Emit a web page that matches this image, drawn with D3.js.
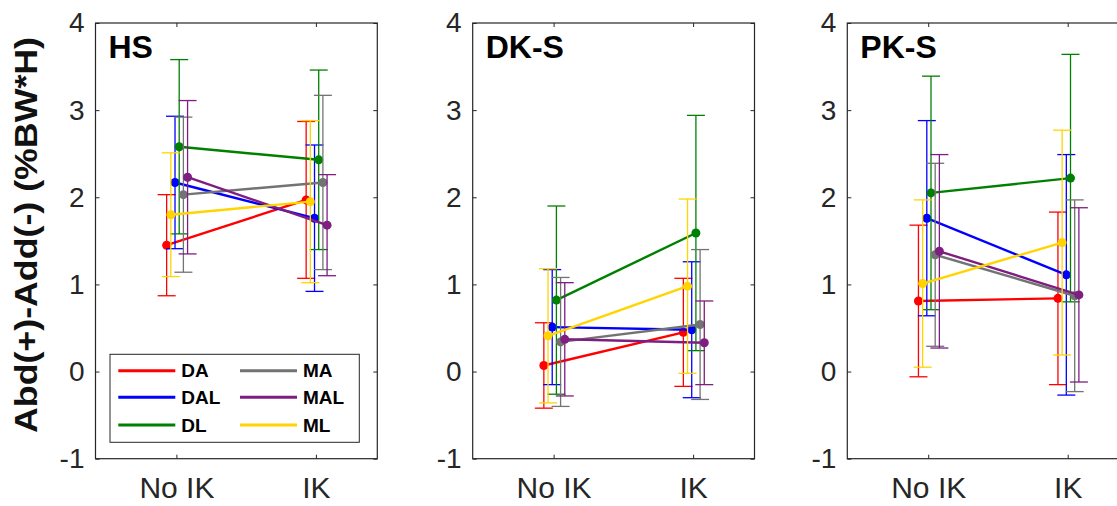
<!DOCTYPE html>
<html>
<head>
<meta charset="utf-8">
<script src="https://cdn.jsdelivr.net/npm/d3@7"></script>
<style>
  body { margin: 0; background: #fff; }
  text { font-family: "Liberation Sans", Arial, sans-serif; }
</style>
</head>
<body>
<script>
// Panels, groups and series
var panels = ["HS", "DK-S", "PK-S"];
var groups = ["No IK", "IK"];
var series = ["DA", "DAL", "DL", "MA", "MAL", "ML"];
var yTicks = [-1, 0, 1, 2, 3, 4];

// Means [No IK, IK] per series, one list per panel
var meansHS = [[1.45, 1.97], [2.17, 1.76], [2.58, 2.43], [2.03, 2.17], [2.23, 1.68], [1.80, 1.95]];
var meansDKS = [[0.07, 0.45], [0.51, 0.48], [0.82, 1.59], [0.34, 0.54], [0.37, 0.33], [0.41, 0.98]];
var meansPKS = [[0.81, 0.84], [1.76, 1.11], [2.05, 2.22], [1.34, 0.87], [1.38, 0.88], [1.01, 1.48]];

// Error bar half lengths [No IK, IK]
var errHS = [[0.58, 0.90], [0.76, 0.84], [1.00, 1.03], [0.89, 1.00], [0.88, 0.58], [0.71, 0.93]];
var errDKS = [[0.49, 0.62], [0.66, 0.78], [1.08, 1.35], [0.74, 0.86], [0.65, 0.48], [0.77, 1.00]];
var errPKS = [[0.87, 0.99], [1.12, 1.38], [1.34, 1.42], [1.05, 1.10], [1.11, 1.00], [0.96, 1.29]];

var allMeans = [meansHS, meansDKS, meansPKS];
var allErr = [errHS, errDKS, errPKS];

// Styling
var colors = {"DA": "#ff0000", "DAL": "#0000ff", "DL": "#008000",
              "MA": "#737373", "MAL": "#7e1e80", "ML": "#ffd400"};
var dodge = {"DA": -0.07, "ML": -0.04, "DAL": -0.01, "DL": 0.02, "MA": 0.05, "MAL": 0.08};
var axisColor = "#262626";

var width = 1117;
var height = 506;
var svg = d3.select("body").append("svg")
            .attr("width", width)
            .attr("height", height);

var panelLeft = [95.5, 472.7, 847.3];
var panelWidth = 281.8;
var plotTop = 23;
var plotBottom = 458.7;

var yScale = d3.scaleLinear()
               .domain([-1, 4])
               .range([plotBottom, plotTop]);

panels.forEach(function(name, p) {
  var left = panelLeft[p];
  var xScale = d3.scaleLinear()
                 .domain([0.42, 2.44])
                 .range([left, left + panelWidth]);
  var g = svg.append("g");

  // Box
  g.append("rect")
   .attr("x", left)
   .attr("y", plotTop)
   .attr("width", panelWidth)
   .attr("height", plotBottom - plotTop)
   .attr("fill", "none")
   .attr("stroke", axisColor)
   .attr("stroke-width", 1.2);

  // Axes, ticks pointing inward
  var yAxis = d3.axisLeft(yScale).tickValues(yTicks).tickSize(-4).tickPadding(11)
                .tickFormat(function(d) { return String(d); });
  var ya = g.append("g").attr("transform", "translate(" + left + ",0)").call(yAxis);
  ya.select(".domain").remove();
  ya.selectAll("line").attr("stroke", axisColor);
  ya.selectAll("text").attr("fill", axisColor).style("font-size", "28px");

  var yAxisR = d3.axisRight(yScale).tickValues(yTicks).tickSize(-4).tickFormat("");
  var yr = g.append("g").attr("transform", "translate(" + (left + panelWidth) + ",0)").call(yAxisR);
  yr.select(".domain").remove();
  yr.selectAll("line").attr("stroke", axisColor);

  var xAxis = d3.axisBottom(xScale).tickValues([1, 2]).tickSize(-4).tickPadding(18)
                .tickFormat(function(d) { return groups[d - 1]; });
  var xa = g.append("g").attr("transform", "translate(0," + plotBottom + ")").call(xAxis);
  xa.select(".domain").remove();
  xa.selectAll("line").attr("stroke", axisColor);
  xa.selectAll("text").attr("fill", axisColor).style("font-size", "30px");

  var xAxisT = d3.axisTop(xScale).tickValues([1, 2]).tickSize(-4).tickFormat("");
  var xt = g.append("g").attr("transform", "translate(0," + plotTop + ")").call(xAxisT);
  xt.select(".domain").remove();
  xt.selectAll("line").attr("stroke", axisColor);

  // Panel title
  g.append("text")
   .attr("x", left + 13)
   .attr("y", 58)
   .style("font-size", "32px")
   .style("font-weight", "bold")
   .text(name);

  // Series
  series.forEach(function(s, i) {
    var pts = groups.map(function(grp, j) {
      return {x: j + 1 + dodge[s], m: allMeans[p][i][j], e: allErr[p][i][j]};
    });
    var col = colors[s];

    // Error bars
    pts.forEach(function(d) {
      var cx = xScale(d.x);
      g.append("line")
       .attr("x1", cx).attr("x2", cx)
       .attr("y1", yScale(d.m - d.e)).attr("y2", yScale(d.m + d.e))
       .attr("stroke", col).attr("stroke-width", 1.3);
      [d.m - d.e, d.m + d.e].forEach(function(v) {
        g.append("line")
         .attr("x1", cx - 9).attr("x2", cx + 9)
         .attr("y1", yScale(v)).attr("y2", yScale(v))
         .attr("stroke", col).attr("stroke-width", 1.3);
      });
    });

    // Connecting line
    var line = d3.line()
                 .x(function(d) { return xScale(d.x); })
                 .y(function(d) { return yScale(d.m); });
    g.append("path")
     .datum(pts)
     .attr("d", line)
     .attr("fill", "none")
     .attr("stroke", col)
     .attr("stroke-width", 2.4);

    // Markers
    g.selectAll(".dot-" + s)
     .data(pts)
     .enter()
     .append("circle")
     .attr("cx", function(d) { return xScale(d.x); })
     .attr("cy", function(d) { return yScale(d.m); })
     .attr("r", 4.5)
     .attr("fill", col);
  });
});

// Y label
svg.append("text")
   .attr("transform", "translate(37,235) rotate(-90)")
   .attr("text-anchor", "middle")
   .attr("textLength", 396)
   .attr("lengthAdjust", "spacingAndGlyphs")
   .style("font-size", "31px")
   .style("font-weight", "bold")
   .attr("fill", "#111")
   .text("Abd(+)-Add(-) (%BW*H)");

// Legend
var legend = svg.append("g");
legend.append("rect")
      .attr("x", 110)
      .attr("y", 354.3)
      .attr("width", 249.3)
      .attr("height", 88)
      .attr("fill", "#fff")
      .attr("stroke", axisColor)
      .attr("stroke-width", 1);

var legendX = [118.3, 240];
var legendY = [370.7, 397.3, 425];
series.forEach(function(s, i) {
  var col = Math.floor(i / 3);
  var row = i % 3;
  var lx = legendX[col];
  var ly = legendY[row];
  legend.append("line")
        .attr("x1", lx).attr("x2", lx + 57)
        .attr("y1", ly).attr("y2", ly)
        .attr("stroke", colors[s])
        .attr("stroke-width", 3);
  legend.append("text")
        .attr("x", lx + 63)
        .attr("y", ly + 6.5)
        .style("font-size", "19px")
        .style("font-weight", "bold")
        .text(s);
});
</script>
</body>
</html>
